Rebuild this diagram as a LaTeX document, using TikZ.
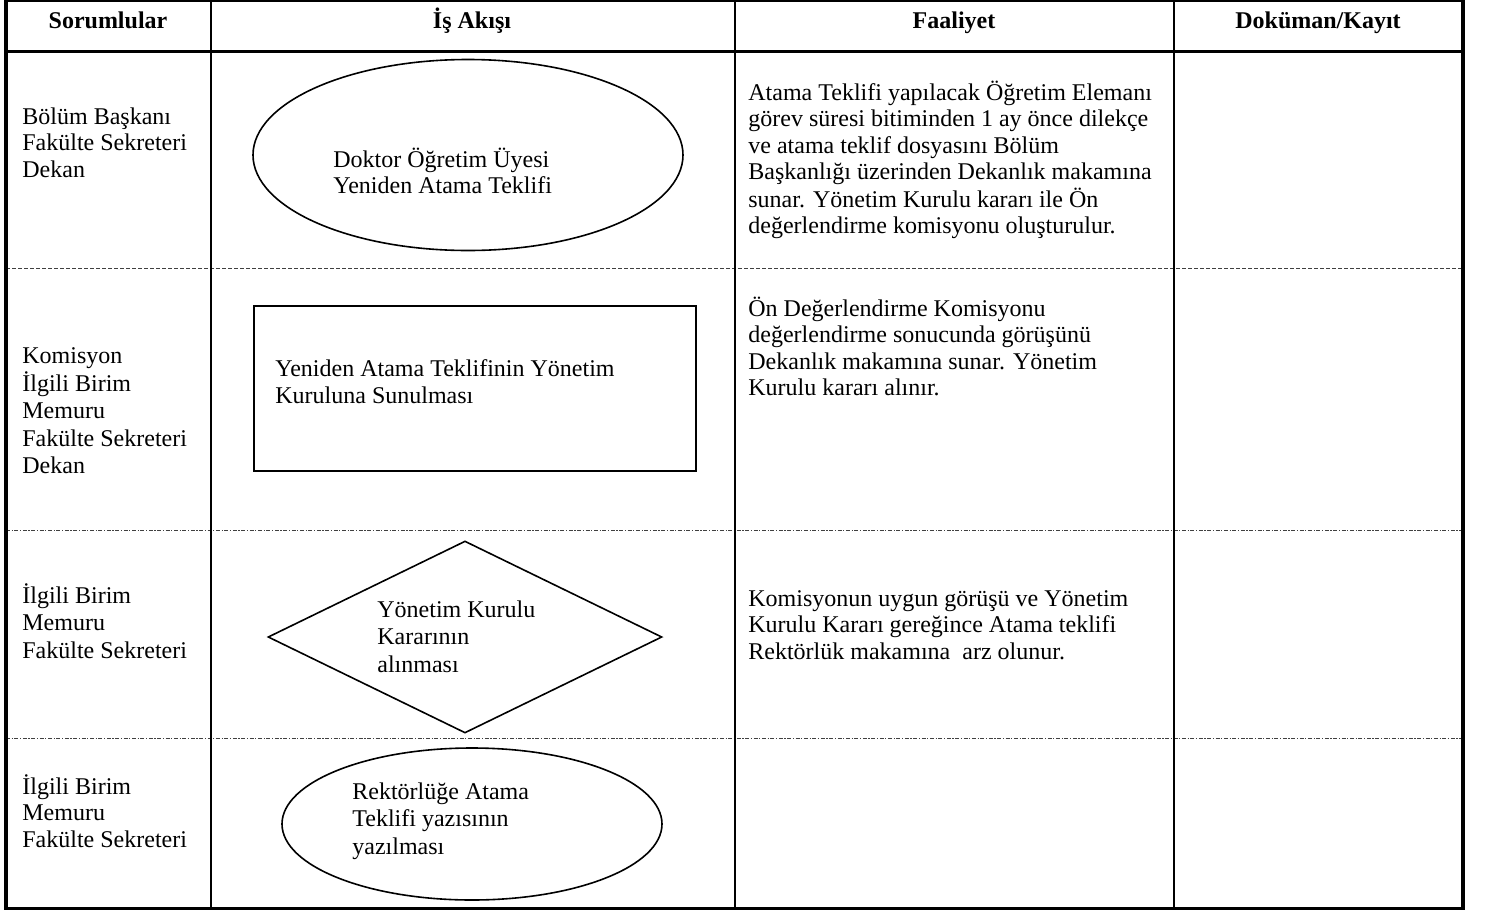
\documentclass[tikz,border=0pt]{standalone}
\usepackage{fontspec}
\setmainfont{Liberation Serif}
\usetikzlibrary{shapes.geometric}
\newcommand{\mylines}[1]{\begin{tabular}[t]{@{}l@{}}#1\end{tabular}}
\begin{document}
\begin{tikzpicture}[x=0.5pt,y=-0.5pt,
  txt/.style={anchor=base west,inner sep=0pt,font=\fontsize{12}{13.3}\selectfont},
  txtwide/.style={anchor=base west,inner sep=0pt,font=\fontsize{12}{13.8}\selectfont},
  head/.style={anchor=base,inner sep=0pt,font=\fontsize{12}{13.4}\selectfont\bfseries},
  frame/.style={line width=2pt},
  grid/.style={line width=1pt},
  sep/.style={line width=0.5pt,draw=black!75,dash pattern=on 2pt off 1pt},
  sepdd/.style={line width=0.5pt,draw=black!75,dash pattern=on 2pt off 0.8pt on 0.6pt off 0.8pt},
  shapeline/.style={draw,line width=0.8pt,inner sep=0pt}]
\useasboundingbox (0,0) rectangle (1485,911);
% table lines
\draw[sep] (6,268) -- (1463,268);
\draw[sepdd] (6,530) -- (1463,530);
\draw[sepdd] (6,738) -- (1463,738);
\draw[grid] (211,0) -- (211,908);
\draw[grid] (735,0) -- (735,908);
\draw[grid] (1174,0) -- (1174,908);
\draw[line width=1.5pt] (6,51.5) -- (1463,51.5);
\draw[line width=1pt] (4,1) -- (1465,1);
\draw[line width=1.5pt] (4,908.5) -- (1465,908.5);
\draw[frame] (6,0) -- (6,910);
\draw[frame] (1463,0) -- (1463,910);
% header
\node[head] (h1) at (108,28) {Sorumlular};
\node[head] (h2) at (472,28) {İş Akışı};
\node[head] (h3) at (954,28) {Faaliyet};
\node[head] (h4) at (1318,28) {Doküman/Kayıt};
% responsible
\node[txt] (r1) at (22,124) {\mylines{Bölüm Başkanı\\Fakülte Sekreteri\\Dekan}};
\node[txtwide] (r2) at (22,363) {\mylines{Komisyon\\İlgili Birim\\Memuru\\Fakülte Sekreteri\\Dekan}};
\node[txtwide] (r3) at (22,603) {\mylines{İlgili Birim\\Memuru\\Fakülte Sekreteri}};
\node[txt] (r4) at (22,794) {\mylines{İlgili Birim\\Memuru\\Fakülte Sekreteri}};
% flow shapes
\node[shapeline,ellipse,minimum width=215pt,minimum height=95.5pt] (e1) at (468,155) {};
\node[txt] (e1t) at (333,167) {\mylines{Doktor Öğretim Üyesi\\Yeniden Atama Teklifi}};
\node[shapeline,rectangle,minimum width=221pt,minimum height=82.5pt] (b1) at (475,388.5) {};
\node[txtwide] (b1t) at (275,376) {\mylines{Yeniden Atama Teklifinin Yönetim\\Kuruluna Sunulması}};
\node[shapeline,diamond,minimum width=197pt,minimum height=96pt] (d1) at (465,637) {};
\node[txtwide] (d1t) at (377,617) {\mylines{Yönetim Kurulu\\Kararının\\alınması}};
\node[shapeline,ellipse,minimum width=190pt,minimum height=76pt] (e2) at (472,824) {};
\node[txtwide] (e2t) at (352,799) {\mylines{Rektörlüğe Atama\\Teklifi yazısının\\yazılması}};
% activities
\node[txt] (f1) at (748,100) {\mylines{Atama Teklifi yapılacak Öğretim Elemanı\\görev süresi bitiminden 1 ay önce dilekçe\\ve atama teklif dosyasını Bölüm\\Başkanlığı üzerinden Dekanlık makamına\\sunar. Yönetim Kurulu kararı ile Ön\\değerlendirme komisyonu oluşturulur.}};
\node[txt] (f2) at (748,316) {\mylines{Ön Değerlendirme Komisyonu\\değerlendirme sonucunda görüşünü\\Dekanlık makamına sunar. Yönetim\\Kurulu kararı alınır.}};
\node[txt] (f3) at (748,606) {\mylines{Komisyonun uygun görüşü ve Yönetim\\Kurulu Kararı gereğince Atama teklifi\\Rektörlük makamına~ arz olunur.}};
\end{tikzpicture}
\end{document}
